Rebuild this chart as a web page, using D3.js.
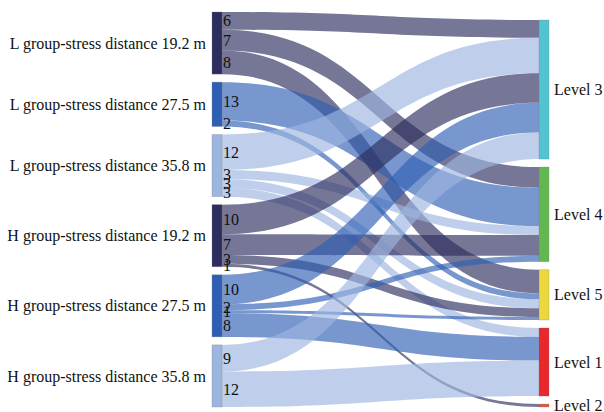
<!DOCTYPE html>
<html>
<head>
<meta charset="utf-8">
<script src="https://cdn.jsdelivr.net/npm/d3@7"></script>
<style>
    body { margin: 0; background: #fff; }
    svg { display: block; }
    text { font-family: "Liberation Serif", "Times New Roman", Times, serif; }
</style>
</head>
<body>
<svg id="chart" width="604" height="412"></svg>
<script>
const sources = [
    "L group-stress distance 19.2 m",
    "L group-stress distance 27.5 m",
    "L group-stress distance 35.8 m",
    "H group-stress distance 19.2 m",
    "H group-stress distance 27.5 m",
    "H group-stress distance 35.8 m"
];
const targets = ["Level 3", "Level 4", "Level 5", "Level 1", "Level 2"];

const sourceColors = ["#2c2d5e", "#2f5fb3", "#9cb6e0", "#2c2d5e", "#2f5fb3", "#9cb6e0"];
const targetColors = ["#52c3d0", "#62b850", "#ecd83e", "#e8282a", "#e0583a"];

// flows: source index -> target index
const linkSource = [0, 0, 0, 1, 1, 2, 2, 2, 2, 3, 3, 3, 3, 4, 4, 4, 4, 5, 5];
const linkTarget = [0, 1, 2, 1, 2, 0, 1, 2, 3, 0, 1, 2, 4, 0, 1, 2, 3, 0, 3];
const linkValue  = [6, 7, 8, 13, 2, 12, 3, 3, 3, 10, 7, 3, 1, 10, 2, 1, 8, 9, 12];

const svg = d3.select("#chart");
const serif = "'Liberation Serif', 'Times New Roman', Times, serif";

const yTop = 12, yBottom = 407, gap = 8, nodeWidth = 10;
const total = d3.sum(linkValue);
const k = d3.scaleLinear()
    .domain([0, total])
    .range([0, yBottom - yTop - (sources.length - 1) * gap]);
const column = d3.scaleLinear().domain([0, 1]).range([212, 539]);

const links = linkValue.map((value, i) => ({ source: linkSource[i], target: linkTarget[i], value }));

function stack(names, colors, side, col, fromBottom) {
    const nodes = names.map((name, i) => {
        const value = d3.sum(links.filter(l => l[side] === i), l => l.value);
        return { name, color: colors[i], value, x0: column(col), x1: column(col) + nodeWidth };
    });
    const height = d3.sum(nodes, n => k(n.value)) + (nodes.length - 1) * gap;
    let y = fromBottom ? yBottom - height : yTop;
    for (const n of nodes) {
        n.y0 = y;
        n.y1 = y + k(n.value);
        y = n.y1 + gap;
    }
    return nodes;
}

const left = stack(sources, sourceColors, "source", 0, false);
const right = stack(targets, targetColors, "target", 1, true);

// outgoing links ordered by target, incoming by source
left.forEach((n, i) => {
    let y = n.y0;
    links.filter(l => l.source === i)
        .sort((a, b) => a.target - b.target)
        .forEach(l => { l.sy0 = y; y += k(l.value); l.sy1 = y; });
});
right.forEach((n, i) => {
    let y = n.y0;
    links.filter(l => l.target === i)
        .sort((a, b) => a.source - b.source)
        .forEach(l => { l.ty0 = y; y += k(l.value); l.ty1 = y; });
});

function band(l) {
    const x0 = left[l.source].x1, x1 = right[l.target].x0;
    const xm = (x0 + x1) / 2;
    const p = d3.path();
    p.moveTo(x0, l.sy0);
    p.bezierCurveTo(xm, l.sy0, xm, l.ty0, x1, l.ty0);
    p.lineTo(x1, l.ty1);
    p.bezierCurveTo(xm, l.ty1, xm, l.sy1, x0, l.sy1);
    p.closePath();
    return p.toString();
}

svg.append("g")
    .selectAll("path")
    .data(links)
    .join("path")
    .attr("d", band)
    .attr("fill", l => sourceColors[l.source])
    .attr("fill-opacity", 0.65);

svg.append("g")
    .selectAll("rect")
    .data(left.concat(right))
    .join("rect")
    .attr("x", n => n.x0)
    .attr("y", n => n.y0)
    .attr("width", nodeWidth)
    .attr("height", n => Math.max(1, n.y1 - n.y0))
    .attr("fill", n => n.color)
    .attr("stroke", "#777")
    .attr("stroke-opacity", 0.35)
    .attr("stroke-width", 0.8);

const labels = svg.append("g")
    .attr("font-family", serif)
    .attr("font-size", 16)
    .attr("fill", "#111");

labels.append("g")
    .selectAll("text")
    .data(links)
    .join("text")
    .attr("x", l => left[l.source].x1 + 1)
    .attr("y", l => (l.sy0 + l.sy1) / 2)
    .attr("dy", "0.35em")
    .text(l => l.value);

labels.append("g")
    .selectAll("text")
    .data(left)
    .join("text")
    .attr("x", n => n.x0 - 6)
    .attr("y", n => (n.y0 + n.y1) / 2)
    .attr("dy", "0.35em")
    .attr("text-anchor", "end")
    .text(n => n.name);

labels.append("g")
    .selectAll("text")
    .data(right)
    .join("text")
    .attr("x", n => n.x1 + 5)
    .attr("y", n => (n.y0 + n.y1) / 2)
    .attr("dy", "0.35em")
    .text(n => n.name);
</script>
</body>
</html>
